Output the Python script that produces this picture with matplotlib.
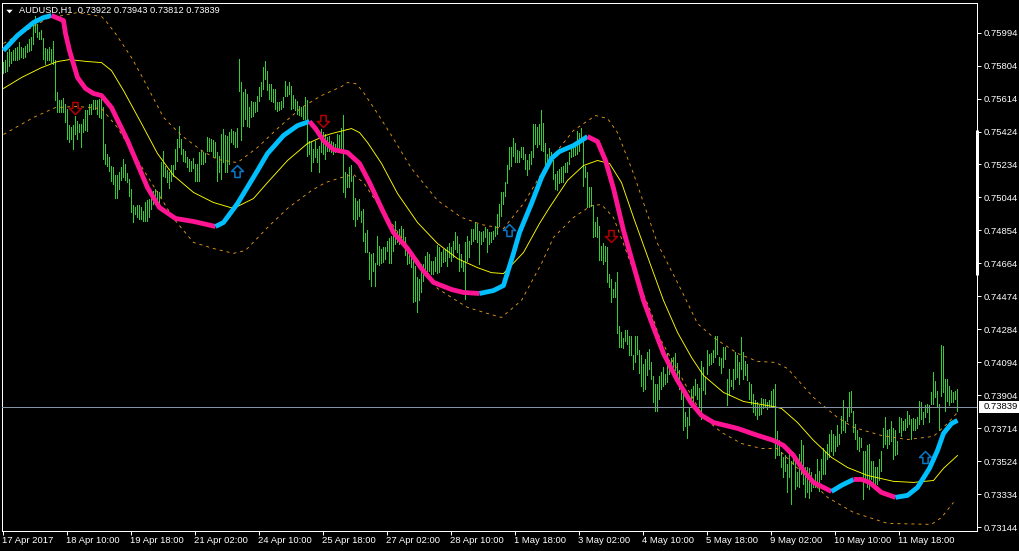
import numpy as np
import matplotlib
matplotlib.use("Agg")
import matplotlib.pyplot as plt
from matplotlib.path import Path
from matplotlib.patches import Rectangle
from matplotlib.transforms import ScaledTranslation

plt.rcParams['font.family'] = ['Liberation Sans', 'DejaVu Sans']

# hourly bars, prices in points (1e-5)
highs = [
    75823, 75833, 75881, 75900, 75881, 75894, 75906, 75910, 75942, 75910,
    75904, 75914, 75929, 75958, 75967, 76040, 76092, 76044, 75996, 76006,
    75964, 75906, 75900, 75910, 75900, 75948, 75833, 75654, 75603, 75606,
    75618, 75583, 75555, 75459, 75449, 75459, 75516, 75487, 75468, 75468,
    75497, 75545, 75545, 75583, 75583, 75603, 75603, 75606, 75612, 75612,
    75564, 75353, 75292, 75276, 75228, 75219, 75171, 75171, 75190, 75219,
    75263, 75238, 75184, 75151, 75094, 74998, 74988, 74998, 74998, 74988,
    74969, 75017, 75027, 75036, 75084, 75084, 75094, 75084, 75075, 75250,
    75314, 75224, 75203, 75189, 75233, 75233, 75324, 75381, 75458, 75381,
    75324, 75314, 75276, 75266, 75253, 75272, 75237, 75237, 75304, 75318,
    75304, 75299, 75395, 75387, 75381, 75375, 75362, 75304, 75285, 75410,
    75439, 75406, 75400, 75420, 75439, 75429, 75420, 75445, 75842, 75708,
    75650, 75669, 75640, 75564, 75602, 75592, 75592, 75631, 75683, 75708,
    75798, 75832, 75775, 75698, 75698, 75669, 75669, 75592, 75592, 75602,
    75621, 75713, 75688, 75708, 75688, 75637, 75612, 75602, 75573, 75564,
    75573, 75625, 75606, 75372, 75362, 75324, 75372, 75324, 75343, 75439,
    75420, 75410, 75391, 75400, 75372, 75362, 75352, 75410, 75406, 75445,
    75521, 75189, 75180, 75218, 75231, 75170, 75039, 75026, 75036, 74968,
    74978, 74838, 74859, 74728, 74719, 74723, 74667, 74824, 74767, 74748,
    74757, 74757, 74796, 74811, 74824, 74844, 74911, 74844, 74863, 74882,
    74863, 74815, 74757, 74728, 74709, 74680, 74652, 74584, 74575, 74661,
    74661, 74709, 74728, 74719, 74680, 74680, 74700, 74773, 74757, 74728,
    74748, 74748, 74761, 74780, 74757, 74796, 74844, 74824, 74776, 74719,
    74680, 74786, 74824, 74796, 74863, 74863, 74901, 74892, 74853, 74844,
    74853, 74872, 74863, 74844, 74844, 74849, 74882, 74949, 75007, 75074,
    75074, 75132, 75233, 75337, 75337, 75387, 75356, 75318, 75314, 75337,
    75337, 75295, 75260, 75295, 75314, 75468, 75468, 75448, 75468, 75548,
    75471, 75356, 75295, 75327, 75304, 75260, 75180, 75199, 75208, 75218,
    75228, 75241, 75247, 75304, 75333, 75337, 75343, 75425, 75414, 75445,
    75391, 75228, 75189, 75107, 75107, 75003, 74901, 74930, 74882, 74767,
    74780, 74767, 74757, 74604, 74575, 74517, 74556, 74613, 74301, 74272,
    74236, 74282, 74282, 74249, 74249, 74134, 74244, 74244, 74163, 74134,
    74086, 74115, 74153, 74173, 74096, 74013, 73971, 73971, 74013, 74038,
    74067, 74029, 74148, 74109, 74121, 74125, 74148, 74090, 74052, 73942,
    73942, 73808, 73779, 73837, 73942, 73961, 74000, 73971, 73948, 74105,
    74067, 74009, 74163, 74144, 74148, 74163, 74249, 74249, 74125, 74121,
    74182, 74182, 74000, 74057, 73990, 74057, 74153, 74134, 74096, 74240,
    74153, 74105, 74086, 73981, 73971, 73913, 73875, 73865, 73846, 73890,
    73885, 73885, 73865, 73875, 73929, 73942, 73971, 73700, 73650, 73577,
    73548, 73558, 73510, 73577, 73529, 73577, 73519, 73462, 73567, 73650,
    73621, 73490, 73490, 73487, 73462, 73423, 73452, 73538, 73471, 73538,
    73602, 73577, 73625, 73682, 73705, 73682, 73673, 73736, 73682, 73788,
    73878, 73759, 73836, 73922, 73932, 73817, 73740, 73702, 73663, 73659,
    73586, 73586, 73621, 73625, 73529, 73529, 73490, 73490, 73538, 73586,
    73717, 73782, 73705, 73711, 73759, 73717, 73702, 73644, 73782, 73775,
    73759, 73769, 73813, 73794, 73769, 73775, 73769, 73778, 73869, 73865,
    73807, 73846, 73855, 73846, 73922, 74038, 73986, 73932, 73855, 74197,
    74191, 73999, 73999, 73961, 73936, 73922, 73932, 73943,
]
lows = [
    75760, 75766, 75775, 75804, 75818, 75833, 75833, 75837, 75843, 75852,
    75846, 75852, 75881, 75887, 75891, 75929, 75996, 75967, 75958, 75958,
    75843, 75814, 75837, 75833, 75823, 75814, 75603, 75535, 75535, 75535,
    75535, 75478, 75382, 75363, 75382, 75324, 75411, 75382, 75420, 75334,
    75420, 75430, 75426, 75522, 75526, 75555, 75551, 75522, 75510, 75503,
    75267, 75234, 75228, 75199, 75138, 75123, 75042, 75042, 75094, 75142,
    75161, 75142, 75132, 75055, 74959, 74902, 74946, 74934, 74921, 74921,
    74911, 74911, 74908, 74931, 74979, 75007, 75017, 75007, 74998, 75040,
    75170, 75164, 75132, 75097, 75137, 75170, 75208, 75256, 75333, 75295,
    75256, 75247, 75218, 75199, 75199, 75214, 75141, 75141, 75141, 75237,
    75237, 75247, 75314, 75310, 75310, 75285, 75276, 75141, 75189, 75151,
    75247, 75189, 75189, 75237, 75362, 75352, 75333, 75333, 75660, 75375,
    75458, 75496, 75458, 75452, 75506, 75516, 75535, 75544, 75602, 75631,
    75669, 75727, 75663, 75612, 75598, 75592, 75554, 75544, 75548, 75554,
    75564, 75631, 75631, 75640, 75554, 75560, 75548, 75525, 75521, 75516,
    75496, 75496, 75285, 75295, 75199, 75247, 75276, 75247, 75189, 75304,
    75295, 75266, 75314, 75314, 75304, 75295, 75304, 75324, 75314, 75324,
    75074, 75045, 75103, 75103, 75141, 74920, 74882, 74920, 74940, 74901,
    74796, 74728, 74728, 74575, 74533, 74623, 74536, 74661, 74657, 74667,
    74671, 74690, 74738, 74665, 74667, 74738, 74776, 74786, 74776, 74796,
    74767, 74715, 74661, 74665, 74642, 74440, 74450, 74383, 74456, 74498,
    74565, 74604, 74594, 74623, 74604, 74604, 74623, 74609, 74613, 74652,
    74671, 74680, 74652, 74700, 74680, 74700, 74748, 74728, 74623, 74642,
    74623, 74460, 74680, 74700, 74776, 74796, 74805, 74786, 74661, 74776,
    74796, 74815, 74728, 74776, 74786, 74805, 74824, 74834, 74882, 74940,
    75007, 75055, 75128, 75208, 75228, 75285, 75247, 75247, 75251, 75276,
    75266, 75208, 75176, 75208, 75237, 75276, 75352, 75333, 75352, 75318,
    75314, 75237, 75228, 75266, 75256, 75151, 75093, 75087, 75126, 75132,
    75132, 75189, 75189, 75237, 75276, 75285, 75291, 75295, 75314, 75391,
    75112, 75160, 74991, 74988, 74997, 74815, 74824, 74815, 74684, 74684,
    74661, 74680, 74556, 74527, 74440, 74469, 74469, 74261, 74182, 74182,
    74176, 74217, 74201, 74134, 74134, 74054, 74096, 74144, 74032, 73961,
    73929, 73942, 74019, 74057, 74000, 73865, 73817, 73814, 73885, 73942,
    73956, 73971, 73981, 74029, 74077, 74067, 74048, 73990, 73942, 73885,
    73702, 73725, 73660, 73731, 73837, 73865, 73904, 73885, 73837, 73769,
    73936, 73913, 74025, 74082, 74086, 74096, 74125, 74144, 74077, 74032,
    74067, 74115, 73846, 73904, 73956, 73942, 74000, 74009, 73971, 74057,
    74000, 74019, 73990, 73885, 73856, 73808, 73789, 73769, 73789, 73798,
    73833, 73837, 73827, 73837, 73837, 73837, 73541, 73560, 73560, 73494,
    73437, 73471, 73346, 73433, 73279, 73510, 73366, 73381, 73375, 73452,
    73394, 73318, 73346, 73312, 73356, 73375, 73375, 73394, 73356, 73423,
    73452, 73452, 73538, 73548, 73586, 73558, 73586, 73615, 73625, 73686,
    73705, 73692, 73759, 73788, 73807, 73692, 73654, 73596, 73586, 73606,
    73308, 73414, 73375, 73366, 73423, 73385, 73385, 73394, 73414, 73471,
    73606, 73625, 73602, 73625, 73644, 73538, 73558, 73567, 73692, 73673,
    73702, 73702, 73721, 73740, 73654, 73702, 73702, 73717, 73740, 73769,
    73740, 73778, 73807, 73750, 73855, 73855, 73894, 73836, 73702, 73903,
    73922, 73817, 73874, 73846, 73865, 73865, 73884, 73812,
]

# thick trend line, colour changes at the switch positions
ma_bars = [0, 7, 15, 20, 24, 30, 31, 33, 37, 41, 45, 49, 54, 62, 72, 78, 86, 95, 106,
           110, 117, 127, 132, 140, 147, 153, 156, 160, 165, 172, 178, 183, 190, 195,
           202, 209, 215, 224, 230, 238, 245, 250, 255, 258, 264, 269, 274, 278, 285,
           292, 297, 301, 305, 310, 315, 320, 325, 330, 337, 344, 349, 355, 367, 377,
           385, 390, 395, 400, 405, 414, 419, 425, 429, 433, 439, 446, 452, 457, 463,
           467, 470, 474, 477]
ma_vals = [75890, 75977, 76052, 76080, 76092, 76063, 75988, 75890, 75735, 75672, 75643,
           75631, 75562, 75372, 75101, 74986, 74923, 74906, 74877, 74900, 75009, 75199,
           75297, 75401, 75458, 75482, 75441, 75372, 75320, 75303, 75240, 75130, 74958,
           74842, 74750, 74635, 74555, 74514, 74497, 74491, 74508, 74537, 74722, 74842,
           75009, 75159, 75269, 75309, 75343, 75395, 75366, 75257, 75096, 74854, 74652,
           74451, 74295, 74146, 73990, 73858, 73789, 73748, 73714, 73674, 73645, 73616,
           73558, 73472, 73403, 73351, 73386, 73420, 73420, 73403, 73345, 73317, 73328,
           73374, 73484, 73587, 73685, 73742, 73760]
ma_switch_bars = [0, 24, 106, 153, 238, 292, 414, 425, 446, 477]

mid_bars = [0, 9, 19, 27, 33, 42, 49, 54, 60, 69, 77, 85, 95, 105, 115, 125, 132, 142,
            152, 161, 164, 174, 178, 182, 189, 197, 207, 217, 227, 237, 244, 250, 260,
            268, 273, 282, 290, 297, 303, 309, 315, 324, 330, 337, 344, 350, 360, 370,
            385, 389, 397, 405, 414, 422, 432, 445, 455, 465, 470, 477]
mid_vals = [75672, 75735, 75792, 75827, 75838, 75827, 75821, 75775, 75660, 75470, 75297,
            75171, 75073, 75015, 74981, 75038, 75130, 75257, 75355, 75401, 75412, 75441,
            75418, 75361, 75240, 75067, 74900, 74779, 74692, 74640, 74611, 74606, 74727,
            74894, 74986, 75142, 75228, 75257, 75240, 75130, 74929, 74641, 74451, 74267,
            74123, 74019, 73921, 73869, 73840, 73829, 73748, 73645, 73547, 73489, 73443,
            73409, 73403, 73414, 73484, 73558]

upper_bars = [0, 22, 37, 49, 51, 56, 64, 69, 80, 89, 99, 107, 117, 127, 137, 149, 159,
              169, 172, 176, 178, 180, 187, 194, 204, 217, 229, 239, 250, 260, 269, 277,
              285, 296, 302, 307, 315, 327, 339, 347, 355, 367, 377, 386, 392, 405, 417,
              425, 439, 452, 465, 472, 477]
upper_vals = [75931, 76075, 76109, 76086, 76063, 75988, 75850, 75746, 75505, 75401, 75315,
              75263, 75245, 75332, 75441, 75562, 75631, 75683, 75706, 75700, 75677, 75649,
              75528, 75401, 75211, 75027, 74929, 74888, 74865, 75009, 75182, 75315, 75430,
              75516, 75499, 75418, 75182, 74779, 74508, 74318, 74238, 74146, 74100, 74094,
              74059, 73892, 73777, 73720, 73673, 73650, 73668, 73743, 73806]

lower_bars = [0, 15, 26, 37, 49, 57, 85, 95, 105, 115, 121, 132, 142, 154, 161, 169, 175,
              180, 185, 217, 224, 232, 242, 249, 259, 269, 275, 285, 294, 299, 305, 315,
              324, 328, 350, 359, 369, 379, 387, 412, 425, 442, 464, 469, 475]
lower_vals = [75407, 75505, 75562, 75568, 75556, 75447, 74923, 74785, 74750, 74722, 74739,
              74871, 74981, 75084, 75130, 75159, 75176, 75130, 75044, 74520, 74468, 74411,
              74376, 74353, 74451, 74664, 74814, 74929, 74998, 75003, 74929, 74624, 74376,
              74238, 73777, 73691, 73627, 73598, 73598, 73317, 73230, 73167, 73161, 73201,
              73288]

down_bars = [36, 160, 304]
down_vals = [75562, 75487, 74825]
up_bars = [117, 253, 461]
up_vals = [75194, 74854, 73547]

ytick_vals = [75994, 75804, 75614, 75424, 75234, 75044, 74854, 74664, 74474, 74284,
              74094, 73904, 73714, 73524, 73334, 73144]
xtick_bars = [0, 32, 64, 96, 128, 160, 192, 224, 256, 288, 320, 352, 384, 416, 448]
xtick_labels = ['17 Apr 2017', '18 Apr 10:00', '19 Apr 18:00', '21 Apr 02:00', '24 Apr 10:00',
                '25 Apr 18:00', '27 Apr 02:00', '28 Apr 10:00', '1 May 18:00', '3 May 02:00',
                '4 May 10:00', '5 May 18:00', '9 May 02:00', '10 May 10:00', '11 May 18:00']
bid = 73839
header = 'AUDUSD,H1  0.73922 0.73943 0.73812 0.73839'
scale_marker = [75430, 74595]

W, H = 1020, 551
POINT = 1e-5
PX = 0.72  # one pixel in points at dpi 100

fig = plt.figure(figsize=(W / 100, H / 100), dpi=100, facecolor='black')
ax = fig.add_axes([2.5 / W, (H - 530.5) / H, 975 / W, 528 / H], facecolor='black')
ax.set_xlim(-0.5, 487)
ax.set_ylim(0.73126, 0.76167)

x = np.arange(len(highs))
ax.vlines(x, np.array(lows) * POINT, np.array(highs) * POINT, colors='#32CD32',
          linewidth=PX, antialiased=False, zorder=2)

# envelopes and middle line
orange = '#E0981E'
ax.plot(upper_bars, np.array(upper_vals) * POINT, color=orange, lw=0.9 * PX, ls=(0, (3.4, 4.4)), zorder=3)
ax.plot(lower_bars, np.array(lower_vals) * POINT, color=orange, lw=0.9 * PX, ls=(0, (3.4, 4.4)), zorder=3)
ax.plot(mid_bars, np.array(mid_vals) * POINT, color='#FFFF00', lw=0.9 * PX, zorder=3)

# trend line in pieces
ma_bars = np.array(ma_bars)
ma_vals = np.array(ma_vals) * POINT
for n in range(len(ma_switch_bars) - 1):
    a, b = ma_switch_bars[n], ma_switch_bars[n + 1]
    keep = (ma_bars >= a) & (ma_bars <= b)
    color = '#00BFFF' if n % 2 == 0 else '#FF1493'
    ax.plot(ma_bars[keep], ma_vals[keep], color=color, lw=4.8 * PX, solid_capstyle='butt',
            solid_joinstyle='round', zorder=4)

# hollow arrows
up_arrow = Path([(-0.22, -0.5), (0.22, -0.5), (0.22, 0.0), (0.5, 0.0), (0, 0.5),
                 (-0.5, 0.0), (-0.22, 0.0), (-0.22, -0.5)], closed=True)
down_arrow = Path([(-0.22, 0.5), (0.22, 0.5), (0.22, 0.0), (0.5, 0.0), (0, -0.5),
                   (-0.5, 0.0), (-0.22, 0.0), (-0.22, 0.5)], closed=True)
ax.plot(up_bars, np.array(up_vals) * POINT, ls='none', marker=up_arrow, ms=8.6, mfc='none',
        mec='#0A78C8', mew=1.1, zorder=5)
ax.plot(down_bars, np.array(down_vals) * POINT, ls='none', marker=down_arrow, ms=8.6, mfc='none',
        mec='#B00000', mew=1.1, zorder=5)

# current price line and its tag
ax.axhline(bid * POINT, color='#8494A4', lw=PX, zorder=3)
fig.add_artist(Rectangle((979 / W, 1 - 413 / H), 41 / W, 12 / H, transform=fig.transFigure,
                         fc='white', ec='none', zorder=6))
ax.annotate(f'{bid * POINT:.5f}', xy=(1, bid * POINT), xycoords=('axes fraction', 'data'),
            xytext=(6, 0), textcoords='offset pixels', ha='left', va='center', color='black',
            fontsize=6.8, annotation_clip=False, zorder=7)
ax.set_zorder(7)
ax.patch.set_zorder(0)

# axes look
for side in ax.spines.values():
    side.set_color('white')
    side.set_linewidth(PX)
ax.yaxis.tick_right()
ax.set_yticks(np.array(ytick_vals) * POINT, [f'{v * POINT:.5f}' for v in ytick_vals])
ax.set_xticks(xtick_bars, xtick_labels)
ax.tick_params(axis='both', colors='white', length=3, width=PX, labelsize=6.8)
ax.tick_params(axis='y', pad=1.5)
ax.tick_params(axis='x', pad=1)
shift = ScaledTranslation(-1 / 100, 0, fig.dpi_scale_trans)
for label in ax.get_xticklabels():
    label.set_ha('left')
    label.set_transform(label.get_transform() + shift)

# thick stretch on the price scale
ax.plot([1, 1], np.array(scale_marker) * POINT, color='white', lw=3 * PX,
        transform=ax.get_yaxis_transform(), clip_on=False, solid_capstyle='butt', zorder=6)

# header
fig.text(19 / W, 1 - 10.5 / H, header, color='white', fontsize=6.65, ha='left', va='center', zorder=8)
menu_mark = Path([(-0.5, 0.28), (0.5, 0.28), (0, -0.28), (-0.5, 0.28)], closed=True)
ax.plot([9.5 / W], [1 - 11 / H], marker=menu_mark, ms=4.6, color='white', mew=0,
        transform=fig.transFigure, clip_on=False, zorder=8)

fig.savefig('out.png', dpi=100, facecolor='black')
